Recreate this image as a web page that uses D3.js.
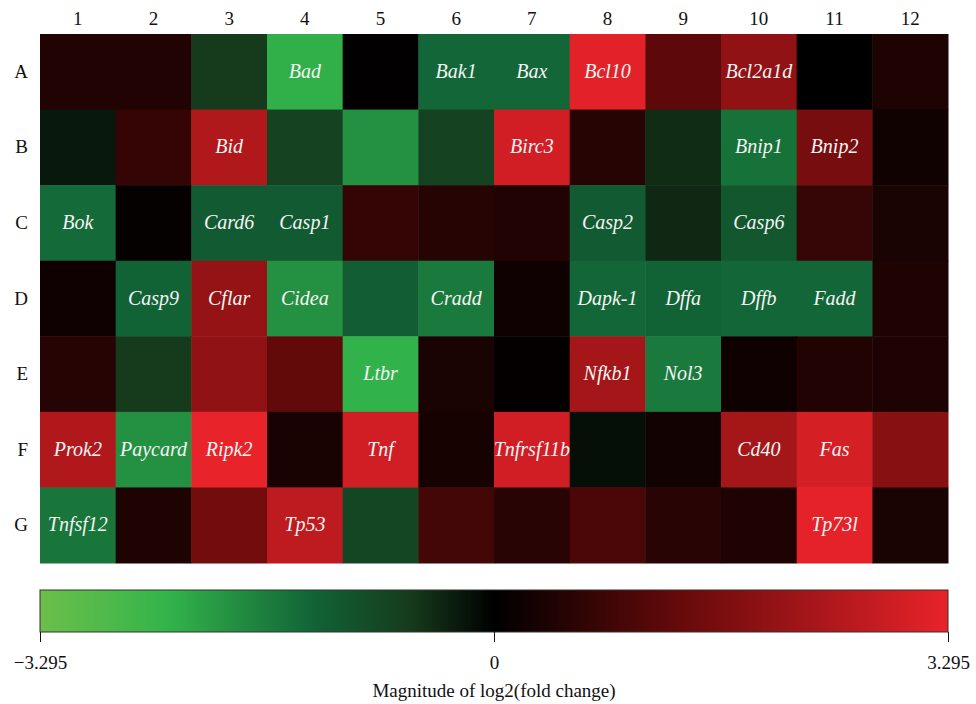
<!DOCTYPE html>
<html><head><meta charset="utf-8">
<script src="https://cdn.jsdelivr.net/npm/d3@7"></script>
<style>body{margin:0;background:#fff}svg{display:block}</style>
</head><body>
<svg id="c" width="976" height="704"></svg>
<script>
const columns = ["1","2","3","4","5","6","7","8","9","10","11","12"];
const rows = ["A","B","C","D","E","F","G"];
const values = [
  [0.45, 0.45, -0.6, -2.3, 0.02, -1.35, -1.35, 3.2, 1.25, 2.0, 0.0, 0.4],
  [-0.25, 0.7, 2.45, -0.75, -1.9, -0.75, 2.95, 0.5, -0.45, -1.5, 1.6, 0.22],
  [-1.4, 0.07, -1.15, -1.15, 0.7, 0.5, 0.45, -1.15, -0.4, -1.1, 0.72, 0.35],
  [0.2, -1.3, 2.05, -1.9, -1.2, -1.6, 0.2, -1.35, -1.3, -1.35, -1.35, 0.4],
  [0.52, -0.6, 2.0, 1.3, -2.35, 0.35, 0.05, 2.3, -1.6, 0.2, 0.45, 0.38],
  [2.45, -1.9, 3.29, 0.33, 2.95, 0.3, 2.95, -0.15, 0.25, 2.3, 3.0, 1.85],
  [-1.55, 0.4, 1.55, 2.65, -0.8, 0.9, 0.55, 1.0, 0.55, 0.4, 3.25, 0.35]
];
const genes = [
  ["", "", "", "Bad", "", "Bak1", "Bax", "Bcl10", "", "Bcl2a1d", "", ""],
  ["", "", "Bid", "", "", "", "Birc3", "", "", "Bnip1", "Bnip2", ""],
  ["Bok", "", "Card6", "Casp1", "", "", "", "Casp2", "", "Casp6", "", ""],
  ["", "Casp9", "Cflar", "Cidea", "", "Cradd", "", "Dapk-1", "Dffa", "Dffb", "Fadd", ""],
  ["", "", "", "", "Ltbr", "", "", "Nfkb1", "Nol3", "", "", ""],
  ["Prok2", "Paycard", "Ripk2", "", "Tnf", "", "Tnfrsf11b", "", "", "Cd40", "Fas", ""],
  ["Tnfsf12", "", "", "Tp53", "", "", "", "", "", "", "Tp73l", ""]
];
const legendTicks = [-3.295, 0, 3.295];
const legendTickLabels = ["\u22123.295", "0", "3.295"];
const colorStops = [-3.295, -2.37, -1.32, -0.6, 0, 1.38, 3.295];
const colorRange = ["#6cbf4a", "#33b44a", "#116437", "#163a1c", "#000000", "#680a0a", "#e8232a"];
const legendTitle = "Magnitude of log2(fold change)";

const svg = d3.select("#c");
const font = "'Liberation Serif', 'DejaVu Serif', serif";
const color = d3.scaleLinear().domain(colorStops).range(colorRange).clamp(true);

const x = d3.scaleBand().domain(columns).range([40, 948]).padding(0);
const y = d3.scaleBand().domain(rows).range([34, 563]).padding(0);

const cells = [];
rows.forEach((r, i) => columns.forEach((c, j) => cells.push({r, c, v: values[i][j], g: genes[i][j]})));

svg.append("g").selectAll("rect").data(cells).join("rect")
  .attr("x", d => x(d.c)).attr("y", d => y(d.r))
  .attr("width", x.bandwidth() + 0.5).attr("height", y.bandwidth() + 0.5)
  .attr("fill", d => color(d.v));

svg.append("g").selectAll("text").data(cells.filter(d => d.g)).join("text")
  .attr("x", d => x(d.c) + x.bandwidth() / 2)
  .attr("y", d => y(d.r) + y.bandwidth() / 2)
  .attr("dy", "0.3em")
  .attr("text-anchor", "middle")
  .attr("font-family", font).attr("font-style", "italic").attr("font-size", 20)
  .attr("fill", "#f4f4f4")
  .text(d => d.g);

// column labels
const xAxis = svg.append("g").attr("transform", "translate(0,34)")
  .call(d3.axisTop(x).tickSize(0).tickPadding(9));
xAxis.select(".domain").remove();
xAxis.selectAll("text").attr("font-family", font).attr("font-size", 19).attr("fill", "#111");

const yAxis = svg.append("g").attr("transform", "translate(40,0)")
  .call(d3.axisLeft(y).tickSize(0).tickPadding(12));
yAxis.select(".domain").remove();
yAxis.selectAll("text").attr("font-family", font).attr("font-size", 19).attr("fill", "#111");

// legend
const lx = d3.scaleLinear().domain([-3.295, 3.295]).range([40, 948]);
const defs = svg.append("defs");
const grad = defs.append("linearGradient").attr("id", "lg").attr("x1", "0%").attr("x2", "100%");
colorStops.forEach((s, i) => grad.append("stop")
  .attr("offset", ((s + 3.295) / 6.59 * 100) + "%")
  .attr("stop-color", colorRange[i]));
svg.append("rect").attr("x", 40).attr("y", 590).attr("width", 908).attr("height", 42)
  .attr("fill", "url(#lg)").attr("stroke", "#333").attr("stroke-width", 1);

const la = svg.append("g").attr("transform", "translate(0,632)")
  .call(d3.axisBottom(lx).tickValues(legendTicks).tickFormat((d, i) => legendTickLabels[i]).tickSize(10).tickPadding(14));
la.select(".domain").remove();
la.selectAll("line").attr("stroke", "#111");
la.selectAll("text").attr("font-family", font).attr("font-size", 19).attr("fill", "#111");

svg.append("text").attr("x", 494).attr("y", 697).attr("text-anchor", "middle")
  .attr("font-family", font).attr("font-size", 19).attr("fill", "#111").text(legendTitle);
</script>
</body></html>
